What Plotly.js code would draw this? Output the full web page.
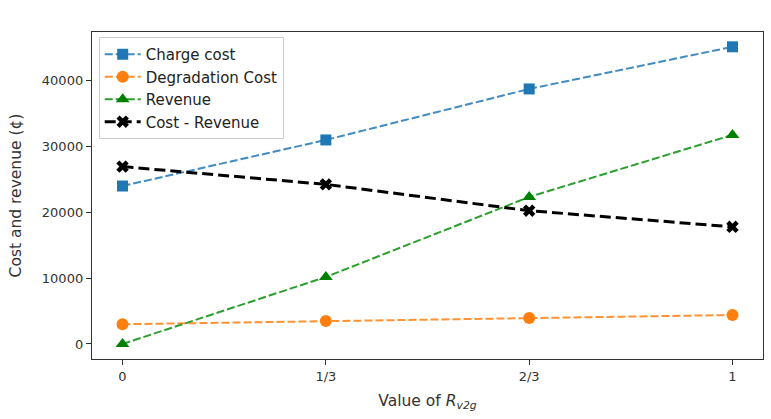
<!DOCTYPE html>
<html>
<head>
<meta charset="utf-8">
<script src="https://cdn.plot.ly/plotly-3.0.1.min.js"></script>
<style>html,body{margin:0;padding:0;background:#fff;}#chart{width:771px;height:419px;}</style>
</head>
<body>
<div id="chart"></div>
<script>
const xValues = [0, 1/3, 2/3, 1];
const xTickLabels = ["0", "1/3", "2/3", "1"];
const chargeCost = [24000, 31000, 38750, 45150];
const degradationCost = [3000, 3500, 3950, 4400];
const revenue = [0, 10180, 22340, 31770];
const costMinusRevenue = [26950, 24250, 20250, 17800];
const yTickVals = [0, 10000, 20000, 30000, 40000];

const font = "DejaVu Sans, sans-serif";
const traces = [
  {x: xValues, y: chargeCost, name: "Charge cost", mode: "lines+markers",
   line: {color: "rgba(31,119,180,0.85)", width: 2, dash: "8px,3px"},
   marker: {symbol: "square", size: 11, color: "#1f77b4"}},
  {x: xValues, y: degradationCost, name: "Degradation Cost", mode: "lines+markers",
   line: {color: "rgba(255,127,14,0.85)", width: 2, dash: "8px,3px"},
   marker: {symbol: "circle", size: 12, color: "#ff7f0e"}},
  {x: xValues, y: revenue, name: "Revenue", mode: "lines+markers",
   line: {color: "#2ca02c", width: 2, dash: "8px,3px"},
   marker: {symbol: "triangle-up", size: 12, color: "#008000"}},
  {x: xValues, y: costMinusRevenue, name: "Cost - Revenue", mode: "lines+markers",
   line: {color: "#000000", width: 3, dash: "11px,5px"},
   marker: {symbol: "x", size: 11, color: "#000000"}}
];

const layout = {
  width: 771, height: 419,
  margin: {l: 92, r: 8, t: 32, b: 60},
  paper_bgcolor: "#fff", plot_bgcolor: "#fff",
  font: {family: font, size: 13, color: "#333"},
  showlegend: true,
  legend: {x: 0.01, y: 0.985, xanchor: "left", yanchor: "top",
    bgcolor: "rgba(255,255,255,0.8)", bordercolor: "#cccccc", borderwidth: 1,
    itemwidth: 36,
    font: {family: font, size: 15, color: "#222"}, tracegroupgap: 0},
  xaxis: {
    range: [-0.05, 1.05], tickmode: "array", tickvals: xValues, ticktext: xTickLabels,
    showgrid: false, zeroline: false, showline: true, linecolor: "#333", linewidth: 1.2, mirror: true,
    ticks: "outside", ticklen: 5, tickcolor: "#333",
    tickfont: {family: font, size: 13, color: "#333"},
    title: {text: "Value of <i>R</i><sub><i>v2g</i></sub>", font: {family: font, size: 15.5, color: "#333"}, standoff: 12}
  },
  yaxis: {
    range: [-2280, 47400], tickmode: "array", tickvals: yTickVals, tickformat: "d",
    showgrid: false, zeroline: false, showline: true, linecolor: "#333", linewidth: 1.2, mirror: true,
    ticks: "outside", ticklen: 5, tickcolor: "#333",
    tickfont: {family: font, size: 13, color: "#333"},
    title: {text: "Cost and revenue (¢)", font: {family: font, size: 15.5, color: "#333"}, standoff: 16}
  }
};
Plotly.newPlot("chart", traces, layout, {displayModeBar: false, staticPlot: true});
</script>
</body>
</html>
